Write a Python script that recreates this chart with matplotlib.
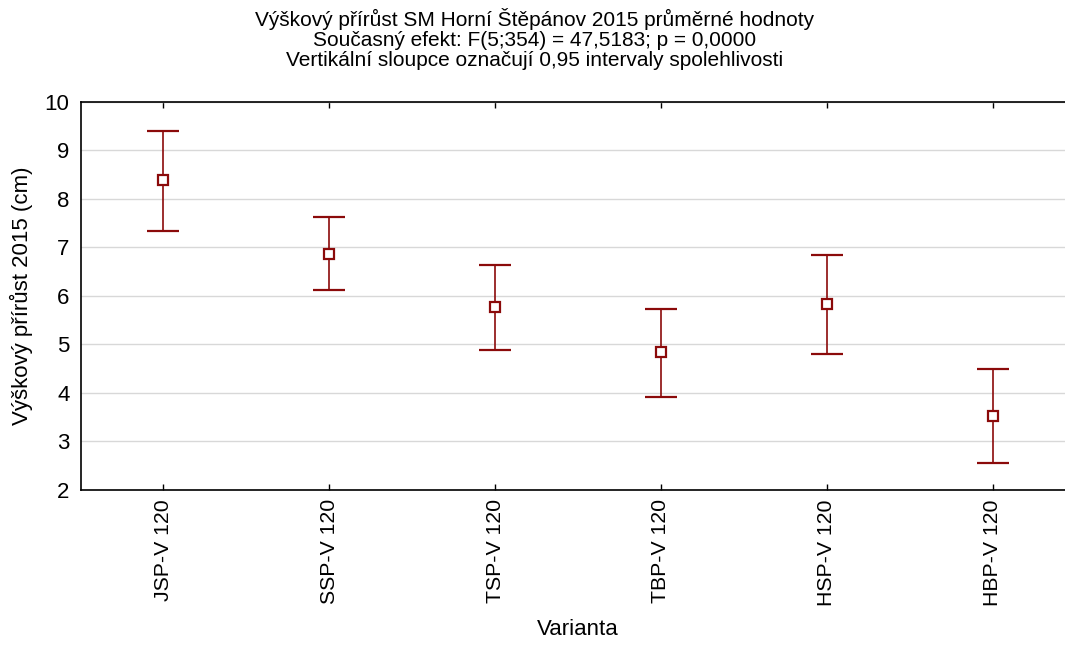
import matplotlib
matplotlib.use("Agg")
import matplotlib.pyplot as plt
import numpy as np

plt.rcParams['font.family'] = ['Liberation Sans', 'DejaVu Sans']

categories = ["JSP-V 120", "SSP-V 120", "TSP-V 120", "TBP-V 120", "HSP-V 120", "HBP-V 120"]
means = [8.38, 6.87, 5.77, 4.83, 5.83, 3.52]
upper = [9.40, 7.63, 6.63, 5.73, 6.85, 4.49]
lower = [7.33, 6.11, 4.89, 3.92, 4.80, 2.54]
yticks = [2, 3, 4, 5, 6, 7, 8, 9, 10]
title_lines = ["Výškový přírůst SM Horní Štěpánov 2015 průměrné hodnoty",
               "Současný efekt: F(5;354) = 47,5183; p = 0,0000",
               "Vertikální sloupce označují 0,95 intervaly spolehlivosti"]

W, H = 1065, 646
fig = plt.figure(figsize=(W / 100, H / 100), dpi=100)
ax = fig.add_axes([80.5 / W, 1 - 489.5 / H, 995 / W, (489.5 - 102) / H])

x = np.arange(len(categories))
m = np.array(means)
yerr = np.vstack([m - np.array(lower), np.array(upper) - m])
col = "#8b0a0a"
ax.errorbar(x, m, yerr=yerr, fmt="s", color=col, ecolor=col, elinewidth=1.2,
            capsize=11.5, capthick=1.2, markersize=7.5, markerfacecolor="white",
            markeredgecolor=col, markeredgewidth=1.6, zorder=3)

ax.set_xlim(-0.5, 5.5)
ax.set_ylim(2, 10)
ax.set_yticks(yticks)
ax.set_xticks(x)
ax.set_xticklabels(categories, rotation=90, fontsize=15.3)
ax.tick_params(axis="y", length=0, labelsize=16, pad=8)
ax.tick_params(axis="x", direction="in", length=4, top=True, width=1, pad=7)
ax.grid(axis="y", color="#d8d8d8", linewidth=1)
ax.set_axisbelow(True)
for s in ["left", "bottom", "top"]:
    ax.spines[s].set_linewidth(1.2)
ax.spines["right"].set_visible(False)

ax.set_ylabel("Výškový přírůst 2015 (cm)", fontsize=16, labelpad=8)
ax.set_xlabel("Varianta", fontsize=16, labelpad=10)
for i, line in enumerate(title_lines):
    fig.text(535 / W, 1 - (19 + 21 * i) / H, line, ha="center", va="center", fontsize=15)

fig.savefig("out.png", dpi=100)
